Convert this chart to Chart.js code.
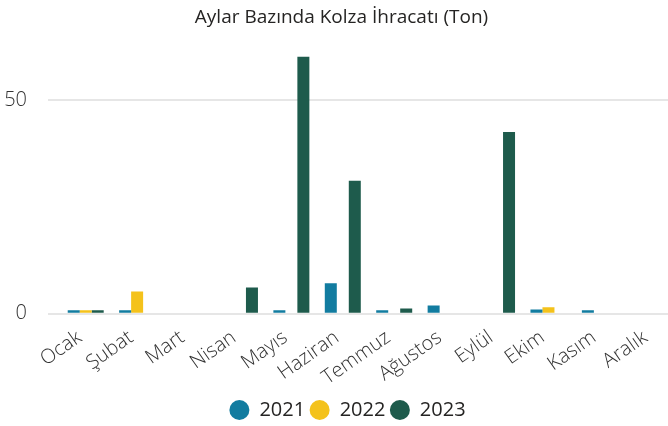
<!DOCTYPE html>
<html>
<head>
<meta charset="utf-8">
<script src="https://cdn.jsdelivr.net/npm/chart.js@4/dist/chart.umd.min.js"></script>
<style>
body{margin:0;overflow:hidden;background:#fff;}
</style>
</head>
<body>
<canvas id="chart" width="698" height="426"></canvas>
<script>
var months = ["Ocak","Şubat","Mart","Nisan","Mayıs","Haziran","Temmuz","Ağustos","Eylül","Ekim","Kasım","Aralık"];
var y2021 = [0.8, 0.8, null, null, 0.8, 7.1, 0.8, 1.9, null, 1.0, 0.8, null];
var y2022 = [0.8, 5.2, null, null, null, null, null, null, null, 1.5, null, null];
var y2023 = [0.8, null, null, 6.1, 60.1, 31.1, 1.2, null, 42.5, null, null, null];
var yTicks = [0, 50];

var fontName = "'Open Sans', sans-serif";

// nudge title and legend a few px right, to sit like the original
var nudge = {
  id: 'nudge',
  afterLayout: function(chart){
    chart.titleBlock.left += 3;
    chart.titleBlock.right += 3;
    chart.legend.left += 9;
    chart.legend.right += 9;
  }
};

new Chart(document.getElementById("chart"), {
  type: 'bar',
  data: {
    labels: months,
    datasets: [
      {label: "2021", data: y2021, backgroundColor: "#127CA0"},
      {label: "2022", data: y2022, backgroundColor: "#F4C21B"},
      {label: "2023", data: y2023, backgroundColor: "#1E5B4C"}
    ]
  },
  plugins: [nudge],
  options: {
    responsive: false,
    animation: false,
    layout: {padding: {left: 0, right: 21, bottom: -4}},
    datasets: {bar: {categoryPercentage: 0.7, barPercentage: 1}},
    plugins: {
      title: {
        display: true,
        text: "Aylar Bazında Kolza İhracatı (Ton)",
        color: "#252423",
        font: {family: fontName, size: 19, weight: 'normal'},
        padding: {top: 6, bottom: 27}
      },
      legend: {
        position: 'bottom',
        labels: {
          usePointStyle: true,
          pointStyle: 'circle',
          pointStyleWidth: 20,
          boxWidth: 14,
          boxHeight: 14,
          padding: 4.5,
          color: "#252423",
          font: {family: fontName, size: 20}
        }
      },
      tooltip: {enabled: false}
    },
    scales: {
      x: {
        grid: {display: false},
        border: {display: false},
        afterFit: function(axis){
          axis.paddingLeft = 0;
          axis.paddingRight = 0;
          axis.height += 1.5;
        },
        ticks: {
          color: "#333333",
          font: {family: fontName, size: 20, weight: 300},
          minRotation: 35,
          maxRotation: 35,
          padding: 4,
          labelOffset: -6
        }
      },
      y: {
        min: 0,
        max: 60.3,
        border: {display: false},
        grid: {color: "#E6E6E6", lineWidth: 2, tickLength: 12, drawTicks: true},
        afterBuildTicks: function(axis){
          axis.ticks = yTicks.map(function(v){ return {value: v}; });
        },
        afterFit: function(axis){
          axis.width = 60;
        },
        ticks: {
          color: "#333333",
          font: {family: fontName, size: 20, weight: 300},
          padding: 21,
          includeBounds: false
        }
      }
    }
  }
});
</script>
</body>
</html>
